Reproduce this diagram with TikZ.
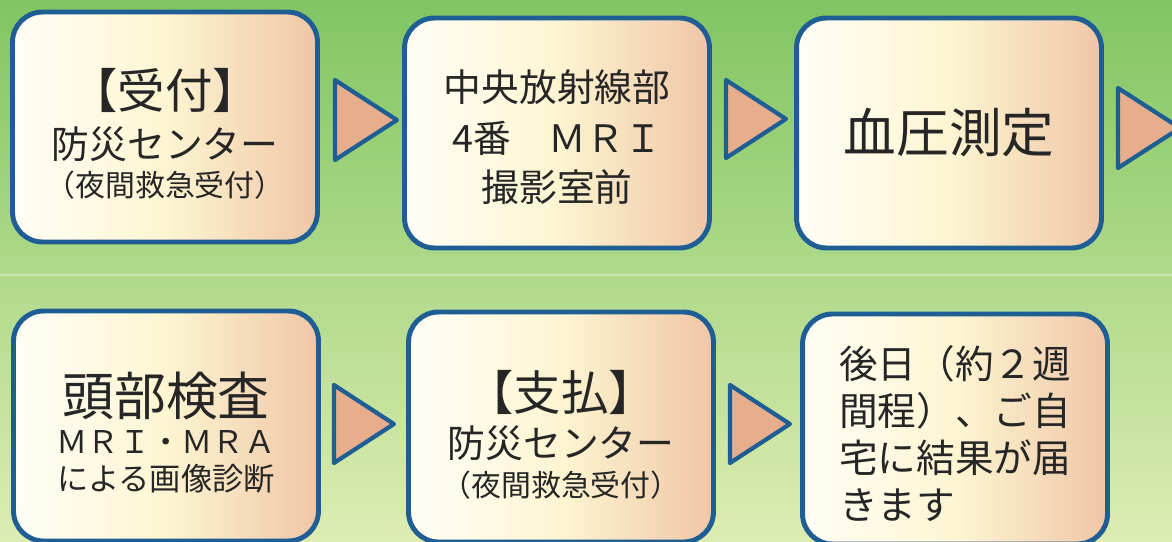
\documentclass[tikz,border=0pt]{standalone}
\usepackage{fontspec}
\setmainfont{Noto Sans CJK JP}
\definecolor{bgtop}{HTML}{80C562}
\definecolor{bgmid}{HTML}{B4DB8A}
\definecolor{bgbot}{HTML}{DDEDB2}
\definecolor{frame}{HTML}{1E5E94}
\definecolor{boxl}{HTML}{FFFEF6}
\definecolor{boxm}{HTML}{FDF5D2}
\definecolor{boxr}{HTML}{EFC6A6}
\definecolor{tri}{HTML}{E8AE8C}
\newcommand{\sz}[1]{\fontsize{#1}{0}\selectfont}
\newcommand{\padtop}[1]{\vphantom{\raisebox{#1}{国}}}
\newcommand{\flatlines}{\fontsize{10}{0}\selectfont\lineskiplimit-100pt\relax}
\tikzset{
  stepbox/.style={draw=frame, line width=2.8pt, rounded corners=0.6cm,
    left color=boxl, right color=boxr, middle color=boxm,
    minimum width=6.1cm, minimum height=4.6cm, align=center,
    inner sep=0pt, text=black!85, font=\flatlines},
  arrowtri/.style={draw=frame, line width=2.4pt, fill=tri, line join=round},
}
\begin{document}
\begin{tikzpicture}[x=0.02cm, y=-0.02cm]
\useasboundingbox (0, 0) rectangle (1172, 541);
\shade [top color=bgtop, middle color=bgmid, bottom color=bgbot]
  (0, 0) rectangle (1172, 541);
\draw [white, opacity=0.35, line width=1.5pt] (0, 275) -- (1172, 275);

%%%%%%%%%%%%%%%%%%%%%%%%%%%%%%%%%%%%%%%%

\node [stepbox] (uketsuke) at (165, 127)
  {\sz{27}\padtop{9pt}【受付】\\[28.4pt]
   \sz{21.5}防災センター\\[21.5pt]
   \sz{17}（夜間救急受付）};
\node [stepbox] (mri) at (557, 133)
  {\sz{21.5}\padtop{5.7pt}中央放射線部\\[29pt]
   \sz{21.5}4番　ＭＲＩ\\[28pt]
   \sz{21.5}撮影室前};
\node [stepbox] (ketsuatsu) at (949, 133)
  {\sz{30}血圧測定};

\draw [arrowtri] (uketsuke.east) ++(15, -47) -- ++(62, 40) -- ++(-62, 40) -- cycle;
\draw [arrowtri] (mri.east) ++(14, -53) -- ++(60, 39) -- ++(-60, 39) -- cycle;
\draw [arrowtri] (ketsuatsu.east) ++(14, -45) -- ++(62, 40) -- ++(-62, 40) -- cycle;

%%%%%%%%%%%%%%%%%%%%%%%%%%%%%%%%%%%%%%%%

\node [stepbox] (tobu) at (166, 426)
  {\sz{29.5}\padtop{9pt}頭部検査\\[21.5pt]
   \sz{17.8}ＭＲＩ・ＭＲＡ\\[21.5pt]
   \sz{17.8}による画像診断};
\node [stepbox] (shiharai) at (561, 427)
  {\sz{27}\padtop{10pt}【支払】\\[27pt]
   \sz{21.5}防災センター\\[22pt]
   \sz{17}（夜間救急受付）};
\node [stepbox, align=left] (kekka) at (955, 429)
  {\sz{22}\padtop{6.8pt}後日（約２週\\[26.7pt]
   \sz{22}間程）、ご自\\[26.7pt]
   \sz{22}宅に結果が届\\[26.7pt]
   \sz{22}きます};

\draw [arrowtri] (tobu.east) ++(13, -41) -- ++(60, 39) -- ++(-60, 39) -- cycle;
\draw [arrowtri] (shiharai.east) ++(14, -42) -- ++(60, 39) -- ++(-60, 39) -- cycle;
\end{tikzpicture}
\end{document}
